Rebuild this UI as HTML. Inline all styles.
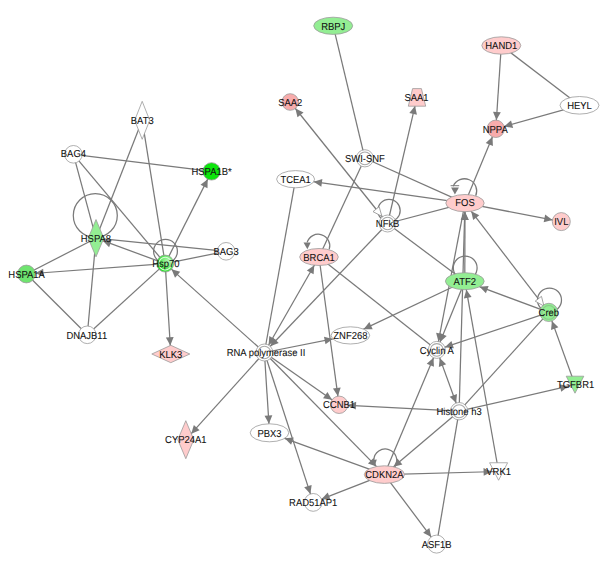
<!DOCTYPE html>
<html><head><meta charset="utf-8"><style>
html,body{margin:0;padding:0;background:#fff;width:609px;height:562px;overflow:hidden}
svg{display:block}
text{font-family:"Liberation Sans",sans-serif}
</style></head><body>
<svg width="609" height="562" viewBox="0 0 609 562">
<defs><radialGradient id="g70" cx="0.62" cy="0.42" r="0.62" fx="0.66" fy="0.36"><stop offset="0" stop-color="#b6f7b6"/><stop offset="0.45" stop-color="#7aee7a"/><stop offset="1" stop-color="#1ee01e"/></radialGradient></defs>
<rect width="609" height="562" fill="#fff"/>
<g stroke="#7a7a7a" stroke-width="1.25" fill="none">
<line x1="333.2" y1="25.8" x2="364.9" y2="158.3"/>
<line x1="501.3" y1="45.5" x2="495.8" y2="128.8"/>
<line x1="501.3" y1="45.5" x2="579.5" y2="105.3"/>
<line x1="579.5" y1="105.3" x2="495.8" y2="128.8"/>
<line x1="465" y1="203.1" x2="495.8" y2="128.8"/>
<line x1="387.6" y1="223.5" x2="417" y2="97.4"/>
<line x1="387.6" y1="223.5" x2="290.2" y2="102"/>
<line x1="465" y1="203.1" x2="295.6" y2="179.2"/>
<line x1="465" y1="203.1" x2="561.3" y2="221.6"/>
<line x1="364.9" y1="158.3" x2="465" y2="203.1"/>
<line x1="364.9" y1="158.3" x2="319" y2="257"/>
<line x1="387.6" y1="223.5" x2="465" y2="203.1"/>
<line x1="387.6" y1="223.5" x2="464.8" y2="281.2"/>
<line x1="387.6" y1="223.5" x2="264.4" y2="352.5"/>
<line x1="295.6" y1="179.2" x2="264.4" y2="352.5"/>
<line x1="319" y1="257" x2="264.4" y2="352.5"/>
<line x1="319" y1="257" x2="339.1" y2="404.8"/>
<line x1="319" y1="257" x2="436.8" y2="349.9"/>
<line x1="264.4" y1="352.5" x2="350.4" y2="335.4"/>
<line x1="464.8" y1="281.2" x2="350.4" y2="335.4"/>
<line x1="464.8" y1="281.2" x2="465" y2="203.1"/>
<line x1="459.1" y1="411.2" x2="465" y2="203.1"/>
<line x1="465" y1="203.1" x2="436.8" y2="349.9"/>
<line x1="464.8" y1="281.2" x2="436.8" y2="349.9"/>
<line x1="548.8" y1="312.4" x2="464.8" y2="281.2"/>
<line x1="548.8" y1="312.4" x2="465" y2="203.1"/>
<line x1="548.8" y1="312.4" x2="436.8" y2="349.9"/>
<line x1="548.8" y1="312.4" x2="459.1" y2="411.2"/>
<line x1="575" y1="384.7" x2="548.8" y2="312.4"/>
<line x1="459.1" y1="411.2" x2="575" y2="384.7"/>
<line x1="459.1" y1="411.2" x2="339.1" y2="404.8"/>
<line x1="459.1" y1="411.2" x2="436.8" y2="349.9"/>
<line x1="459.1" y1="411.2" x2="384.4" y2="474.6"/>
<line x1="459.1" y1="411.2" x2="436.6" y2="544.1"/>
<line x1="384.4" y1="474.6" x2="436.8" y2="349.9"/>
<line x1="498.6" y1="471.5" x2="464.8" y2="281.2"/>
<line x1="384.4" y1="474.6" x2="498.6" y2="471.5"/>
<line x1="384.4" y1="474.6" x2="313.2" y2="502.4"/>
<line x1="384.4" y1="474.6" x2="436.6" y2="544.1"/>
<line x1="384.4" y1="474.6" x2="269.5" y2="432.8"/>
<line x1="264.4" y1="352.5" x2="384.4" y2="474.6"/>
<line x1="264.4" y1="352.5" x2="339.1" y2="404.8"/>
<line x1="264.4" y1="352.5" x2="269.5" y2="432.8"/>
<line x1="264.4" y1="352.5" x2="313.2" y2="502.4"/>
<line x1="264.4" y1="352.5" x2="185.8" y2="439.7"/>
<line x1="264.4" y1="352.5" x2="165.2" y2="263.6"/>
<line x1="165.2" y1="263.6" x2="170.8" y2="354"/>
<line x1="165.2" y1="263.6" x2="211.6" y2="171.4"/>
<line x1="165.2" y1="263.6" x2="96" y2="238.2"/>
<line x1="73.4" y1="154.3" x2="211.6" y2="171.4"/>
<line x1="73.4" y1="154.3" x2="96" y2="238.2"/>
<line x1="73.4" y1="154.3" x2="165.2" y2="263.6"/>
<line x1="142.2" y1="120.3" x2="96" y2="238.2"/>
<line x1="142.2" y1="120.3" x2="165.2" y2="263.6"/>
<line x1="226.1" y1="251.3" x2="96" y2="238.2"/>
<line x1="226.1" y1="251.3" x2="165.2" y2="263.6"/>
<line x1="26.4" y1="274" x2="96" y2="238.2"/>
<line x1="165.2" y1="263.6" x2="26.4" y2="274"/>
<line x1="26.4" y1="274" x2="87.3" y2="334.8"/>
<line x1="96" y1="238.2" x2="87.3" y2="334.8"/>
<line x1="87.3" y1="334.8" x2="165.2" y2="263.6"/>
<circle cx="95.3" cy="215.5" r="22"/>
<circle cx="165.5" cy="251.3" r="11.9"/>
<path d="M453.20,186.20 A12,12 0 1 1 475.68,195.87"/>
<circle cx="389" cy="210.5" r="11.2"/>
<path d="M307.10,242.40 A11.5,11.5 0 1 1 329.22,249.36"/>
<circle cx="465.2" cy="267.9" r="11.9"/>
<circle cx="549.5" cy="300" r="12"/>
<path d="M373.80,459.90 A11.5,11.5 0 1 1 395.02,466.66"/>
</g>
<polygon points="496.37,120.12 493.02,111.68 500.80,112.19" fill="#7a7a7a"/>
<polygon points="504.18,126.45 511.02,120.48 513.13,127.99" fill="#7a7a7a"/>
<polygon points="492.47,136.84 492.93,145.91 485.73,142.92" fill="#7a7a7a"/>
<polygon points="415.00,105.97 416.94,114.84 409.34,113.07" fill="#7a7a7a"/>
<polygon points="295.39,108.48 303.56,112.43 297.48,117.31" fill="#7a7a7a"/>
<polygon points="381.91,216.40 373.01,211.61 379.17,206.67" fill="#fff" stroke="#8c8c8c" stroke-width="0.8"/>
<polygon points="313.74,181.76 322.40,179.04 321.31,186.77" fill="#7a7a7a"/>
<polygon points="552.46,219.90 543.67,222.19 545.14,214.53" fill="#7a7a7a"/>
<polygon points="270.27,346.35 273.11,337.73 278.75,343.12" fill="#7a7a7a"/>
<polygon points="268.62,345.12 269.30,336.07 276.07,339.94" fill="#7a7a7a"/>
<polygon points="314.29,265.24 313.60,274.30 306.83,270.43" fill="#7a7a7a"/>
<polygon points="337.93,396.18 332.96,388.58 340.69,387.53" fill="#7a7a7a"/>
<polygon points="332.78,338.90 325.49,344.33 323.97,336.68" fill="#7a7a7a"/>
<polygon points="363.62,329.14 369.36,322.10 372.70,329.15" fill="#7a7a7a"/>
<polygon points="464.98,211.70 468.86,219.91 461.06,219.89" fill="#7a7a7a"/>
<polygon points="464.76,211.70 468.42,220.01 460.63,219.79" fill="#7a7a7a"/>
<polygon points="438.40,341.55 436.12,332.76 443.78,334.24" fill="#7a7a7a"/>
<polygon points="440.01,342.03 439.49,332.96 446.71,335.91" fill="#7a7a7a"/>
<polygon points="479.60,286.70 488.64,285.90 485.93,293.21" fill="#7a7a7a"/>
<polygon points="471.24,211.23 479.32,215.37 473.13,220.11" fill="#7a7a7a"/>
<polygon points="543.99,306.13 535.20,301.15 541.47,296.35" fill="#fff" stroke="#8c8c8c" stroke-width="0.8"/>
<polygon points="444.86,347.20 451.40,340.90 453.87,348.30" fill="#7a7a7a"/>
<polygon points="551.90,320.96 558.36,327.34 551.03,329.99" fill="#7a7a7a"/>
<polygon points="568.37,386.22 561.25,391.85 559.51,384.24" fill="#7a7a7a"/>
<polygon points="347.79,405.26 356.18,401.81 355.77,409.59" fill="#7a7a7a"/>
<polygon points="439.71,357.89 446.17,364.26 438.84,366.93" fill="#7a7a7a"/>
<polygon points="456.13,403.02 449.66,396.65 456.99,393.98" fill="#7a7a7a"/>
<polygon points="393.61,466.78 397.34,458.50 402.39,464.45" fill="#7a7a7a"/>
<polygon points="433.51,357.74 433.93,366.81 426.74,363.79" fill="#7a7a7a"/>
<polygon points="466.31,289.67 471.58,297.07 463.90,298.43" fill="#7a7a7a"/>
<polygon points="491.80,471.68 483.71,475.81 483.50,468.01" fill="#7a7a7a"/>
<polygon points="321.49,499.16 327.71,492.55 330.55,499.81" fill="#7a7a7a"/>
<polygon points="431.20,536.90 423.15,532.69 429.39,528.00" fill="#7a7a7a"/>
<polygon points="284.72,438.34 293.76,437.47 291.09,444.80" fill="#7a7a7a"/>
<polygon points="376.46,466.52 367.93,463.40 373.49,457.93" fill="#7a7a7a"/>
<polygon points="331.97,399.81 323.02,398.30 327.49,391.91" fill="#7a7a7a"/>
<polygon points="268.93,423.80 264.52,415.87 272.30,415.37" fill="#7a7a7a"/>
<polygon points="310.44,493.94 304.20,487.35 311.61,484.93" fill="#7a7a7a"/>
<polygon points="191.25,433.65 193.85,424.95 199.64,430.17" fill="#7a7a7a"/>
<polygon points="171.53,269.27 180.24,271.84 175.03,277.65" fill="#7a7a7a"/>
<polygon points="170.28,345.54 165.88,337.60 173.66,337.11" fill="#7a7a7a"/>
<polygon points="207.69,179.17 207.49,188.25 200.52,184.74" fill="#7a7a7a"/>
<polygon points="102.76,240.68 111.80,239.85 109.12,247.17" fill="#7a7a7a"/>
<polygon points="35.28,273.34 43.16,268.83 43.74,276.61" fill="#7a7a7a"/>
<line x1="450.6" y1="185.7" x2="459.2" y2="185.7" stroke="#7a7a7a" stroke-width="1"/>
<polygon points="451.1,187.4 458.9,187.4 454.9,194.4" fill="#7a7a7a"/>
<polygon points="303.5,242.4 310.7,242.4 307.4,249.2" fill="#7a7a7a"/>
<polygon points="370.8,460.2 376.8,459.6 374.9,465.6" fill="#7a7a7a"/>
<ellipse cx="333.2" cy="25.8" rx="19.5" ry="8.6" fill="#93ee93" stroke="#9a9a9a" stroke-width="0.8"/>
<ellipse cx="501.3" cy="45.5" rx="19.5" ry="8.7" fill="#ffcccc" stroke="#9a9a9a" stroke-width="0.8"/>
<ellipse cx="579.5" cy="105.3" rx="19.5" ry="8.8" fill="#ffffff" stroke="#9a9a9a" stroke-width="0.8"/>
<circle cx="495.8" cy="128.8" r="8.7" fill="#f8acac" stroke="#9a9a9a" stroke-width="0.8"/>
<circle cx="290.2" cy="102" r="8.3" fill="#f8acac" stroke="#9a9a9a" stroke-width="0.8"/>
<polygon points="412.6,88.60000000000001 421.4,88.60000000000001 425.7,106.2 408.3,106.2" fill="#ffcccc" stroke="#9a9a9a" stroke-width="0.8"/>
<polygon points="142.2,101.3 149.7,120.3 142.2,139.3 134.7,120.3" fill="#ffffff" stroke="#9a9a9a" stroke-width="0.8"/>
<circle cx="73.4" cy="154.3" r="8.8" fill="#ffffff" stroke="#9a9a9a" stroke-width="0.8"/>
<circle cx="211.6" cy="171.4" r="8.7" fill="#0ce50c" stroke="#9a9a9a" stroke-width="0.8"/>
<circle cx="364.9" cy="158.3" r="8.6" fill="#ffffff" stroke="#9a9a9a" stroke-width="0.8"/>
<circle cx="364.9" cy="158.3" r="6.3999999999999995" fill="none" stroke="#a8a8a8" stroke-width="1.05"/>
<ellipse cx="295.6" cy="179.2" rx="19" ry="8.6" fill="#ffffff" stroke="#9a9a9a" stroke-width="0.8"/>
<ellipse cx="465" cy="203.1" rx="19.2" ry="8.6" fill="#ffcccc" stroke="#9a9a9a" stroke-width="0.8"/>
<circle cx="561.3" cy="221.6" r="9" fill="#ffcccc" stroke="#9a9a9a" stroke-width="0.8"/>
<circle cx="387.6" cy="223.5" r="8.5" fill="#ffffff" stroke="#9a9a9a" stroke-width="0.8"/>
<circle cx="387.6" cy="223.5" r="6.3" fill="none" stroke="#a8a8a8" stroke-width="1.05"/>
<polygon points="96,219.54999999999998 103.8,238.2 96,256.84999999999997 88.2,238.2" fill="#93ee93" stroke="#9a9a9a" stroke-width="0.8"/>
<circle cx="226.1" cy="251.3" r="8.8" fill="#ffffff" stroke="#9a9a9a" stroke-width="0.8"/>
<circle cx="165.2" cy="263.6" r="8.5" fill="url(#g70)" stroke="#9a9a9a" stroke-width="0.8"/>
<circle cx="165.2" cy="263.6" r="6.3" fill="none" stroke="#d8f8d8" stroke-width="1.05"/>
<circle cx="26.4" cy="274" r="8.9" fill="#6fe46f" stroke="#9a9a9a" stroke-width="0.8"/>
<ellipse cx="319" cy="257" rx="19.3" ry="8.5" fill="#ffcccc" stroke="#9a9a9a" stroke-width="0.8"/>
<ellipse cx="464.8" cy="281.2" rx="19.4" ry="8.5" fill="#93ee93" stroke="#9a9a9a" stroke-width="0.8"/>
<circle cx="548.8" cy="312.4" r="9.1" fill="#93ee93" stroke="#9a9a9a" stroke-width="0.8"/>
<circle cx="548.8" cy="312.4" r="6.8999999999999995" fill="none" stroke="#88c888" stroke-width="1.05"/>
<circle cx="87.3" cy="334.8" r="8.8" fill="#ffffff" stroke="#9a9a9a" stroke-width="0.8"/>
<ellipse cx="350.4" cy="335.4" rx="19.3" ry="8.6" fill="#ffffff" stroke="#9a9a9a" stroke-width="0.8"/>
<polygon points="170.8,345.3 189.8,354 170.8,362.7 151.8,354" fill="#ffcccc" stroke="#9a9a9a" stroke-width="0.8"/>
<circle cx="264.4" cy="352.5" r="8.5" fill="#ffffff" stroke="#9a9a9a" stroke-width="0.8"/>
<circle cx="264.4" cy="352.5" r="6.3" fill="none" stroke="#a8a8a8" stroke-width="1.05"/>
<circle cx="436.8" cy="349.9" r="8.5" fill="#ffffff" stroke="#9a9a9a" stroke-width="0.8"/>
<circle cx="436.8" cy="349.9" r="6.3" fill="none" stroke="#a8a8a8" stroke-width="1.05"/>
<polygon points="566.2,376.2 583.8,376.2 575,393.2" fill="#93ee93" stroke="#9a9a9a" stroke-width="0.8"/>
<circle cx="339.1" cy="404.8" r="8.7" fill="#ffcccc" stroke="#9a9a9a" stroke-width="0.8"/>
<circle cx="459.1" cy="411.2" r="8.7" fill="#ffffff" stroke="#9a9a9a" stroke-width="0.8"/>
<circle cx="459.1" cy="411.2" r="6.499999999999999" fill="none" stroke="#a8a8a8" stroke-width="1.05"/>
<polygon points="185.8,420.7 193.8,439.7 185.8,458.7 177.8,439.7" fill="#ffcccc" stroke="#9a9a9a" stroke-width="0.8"/>
<ellipse cx="269.5" cy="432.8" rx="19.3" ry="9" fill="#ffffff" stroke="#9a9a9a" stroke-width="0.8"/>
<ellipse cx="384.4" cy="474.6" rx="20.1" ry="8.8" fill="#ffcccc" stroke="#9a9a9a" stroke-width="0.8"/>
<polygon points="489.6,462.75 507.6,462.75 498.6,480.25" fill="#ffffff" stroke="#9a9a9a" stroke-width="0.8"/>
<circle cx="313.2" cy="502.4" r="8.9" fill="#ffffff" stroke="#9a9a9a" stroke-width="0.8"/>
<circle cx="436.6" cy="544.1" r="9" fill="#ffffff" stroke="#9a9a9a" stroke-width="0.8"/>
<g font-family="Liberation Sans, sans-serif" font-size="10.1" fill="#111" stroke="#111" stroke-width="0.08" text-anchor="middle" text-rendering="geometricPrecision">
<text transform="translate(333.20,29.50) scale(0.935,1)">RBPJ</text>
<text transform="translate(501.30,49.20) scale(0.935,1)">HAND1</text>
<text transform="translate(579.50,109.00) scale(0.935,1)">HEYL</text>
<text transform="translate(495.20,132.50) scale(0.935,1)">NPPA</text>
<text transform="translate(290.20,105.70) scale(0.935,1)">SAA2</text>
<text transform="translate(416.50,101.10) scale(0.935,1)">SAA1</text>
<text transform="translate(142.20,124.00) scale(0.935,1)">BAT3</text>
<text transform="translate(73.40,157.40) scale(0.935,1)">BAG4</text>
<text transform="translate(211.60,175.10) scale(0.935,1)">HSPA1B*</text>
<text transform="translate(364.90,162.20) scale(0.935,1)">SWI-SNF</text>
<text transform="translate(295.60,182.90) scale(0.935,1)">TCEA1</text>
<text transform="translate(465.00,206.00) scale(0.935,1)">FOS</text>
<text transform="translate(561.30,225.30) scale(0.935,1)">IVL</text>
<text transform="translate(387.60,227.20) scale(0.935,1)">NFkB</text>
<text transform="translate(95.90,241.90) scale(0.935,1)">HSPA8</text>
<text transform="translate(226.10,255.00) scale(0.935,1)">BAG3</text>
<text transform="translate(165.90,267.30) scale(0.935,1)">Hsp70</text>
<text transform="translate(26.60,277.70) scale(0.935,1)">HSPA1A</text>
<text transform="translate(319.00,260.70) scale(0.935,1)">BRCA1</text>
<text transform="translate(464.80,284.90) scale(0.935,1)">ATF2</text>
<text transform="translate(548.80,316.10) scale(0.935,1)">Creb</text>
<text transform="translate(86.80,338.50) scale(0.935,1)">DNAJB11</text>
<text transform="translate(350.40,339.10) scale(0.935,1)">ZNF268</text>
<text transform="translate(170.80,357.60) scale(0.935,1)">KLK3</text>
<text transform="translate(266.00,356.20) scale(0.935,1)">RNA polymerase II</text>
<text transform="translate(436.80,353.60) scale(0.935,1)">Cyclin A</text>
<text transform="translate(575.60,388.40) scale(0.935,1)">TGFBR1</text>
<text transform="translate(339.10,407.80) scale(0.935,1)">CCNB1</text>
<text transform="translate(459.10,414.90) scale(0.935,1)">Histone h3</text>
<text transform="translate(185.80,443.40) scale(0.935,1)">CYP24A1</text>
<text transform="translate(269.50,436.50) scale(0.935,1)">PBX3</text>
<text transform="translate(384.40,478.30) scale(0.935,1)">CDKN2A</text>
<text transform="translate(498.60,475.20) scale(0.935,1)">VRK1</text>
<text transform="translate(313.20,506.10) scale(0.935,1)">RAD51AP1</text>
<text transform="translate(436.60,547.80) scale(0.935,1)">ASF1B</text>
</g>
</svg>
</body></html>
